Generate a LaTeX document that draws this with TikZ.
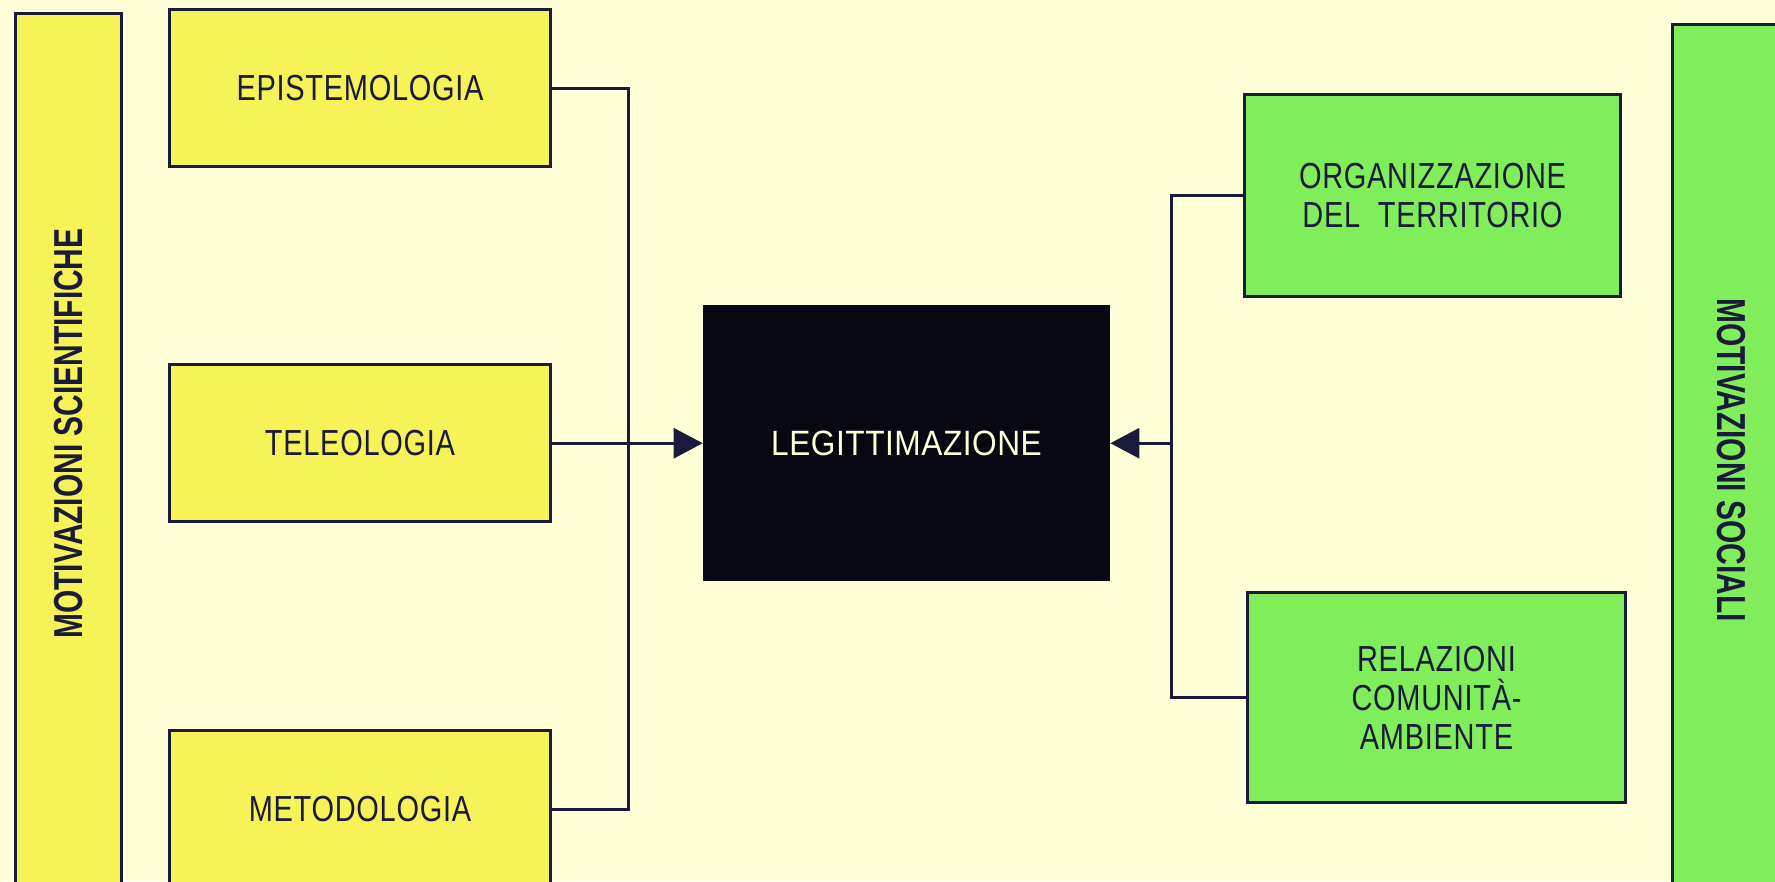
\documentclass[tikz,border=0pt]{standalone}
\usepackage{fontspec}
\setmainfont{Liberation Sans}
\newfontfamily\boxfont[FakeStretch=0.80,LetterSpace=2]{Liberation Sans}
\newfontfamily\barfont[FakeStretch=0.74]{Liberation Sans}
\newfontfamily\legfont[FakeStretch=0.9,LetterSpace=1.5]{Liberation Sans}
\usetikzlibrary{arrows.meta, positioning}
\definecolor{paper}{RGB}{255,255,216}
\definecolor{scicolor}{RGB}{245,243,88}
\definecolor{soccolor}{RGB}{128,238,90}
\definecolor{inkcolor}{RGB}{26,26,58}
\definecolor{legcolor}{RGB}{8,8,18}

\begin{document}
\begin{tikzpicture}[
    x=0.01cm, y=-0.01cm,
    field/.style={draw=inkcolor, line width=0.03cm, fill=scicolor, minimum width=3.80cm, minimum height=1.57cm, inner sep=0pt, align=center, text=inkcolor, font=\boxfont\fontsize{10.3}{11.1}\selectfont},
    social/.style={field, fill=soccolor},
    bar/.style={draw=inkcolor, line width=0.03cm, minimum height=1.05cm, inner sep=0pt, text=inkcolor, font=\barfont\bfseries\fontsize{11.5}{12}\selectfont},
    core/.style={draw=legcolor, fill=legcolor, minimum width=4.06cm, minimum height=2.74cm, text=paper, font=\legfont\fontsize{10}{12}\selectfont},
    wire/.style={draw=inkcolor, line width=0.03cm},
    arrow/.style={wire, -{Triangle[length=0.29cm, width=0.30cm]}}
]
    \useasboundingbox (0,0) rectangle (1775,881);
    \clip (0,0) rectangle (1775,881);
    \fill[paper] (0,0) rectangle (1775,881);

    % Side bars
    \node[bar, fill=scicolor, rotate=90, minimum width=8.81cm] (sci) at (68.5,454.5) {\hspace*{0.42cm}MOTIVAZIONI SCIENTIFICHE};
    \node[bar, fill=soccolor, rotate=-90, minimum width=8.70cm, minimum height=1.17cm] (soc) at (1731.5,460) {MOTIVAZIONI SOCIALI};

    % Main entities
    \node[field] (epi) at (360,88) {EPISTEMOLOGIA};
    \node[field, below=1.95cm of epi] (tel) {TELEOLOGIA};
    \node[field, below=2.06cm of tel] (met) {METODOLOGIA};
    \node[core, right=1.51cm of tel] (leg) {LEGITTIMAZIONE};
    \node[social, minimum width=3.75cm, minimum height=2.01cm] (org) at (1432.5,195.5) {ORGANIZZAZIONE\\DEL\ \ TERRITORIO};
    \node[social, minimum width=3.77cm, minimum height=2.09cm] (rel) at (1436.5,697.5) {RELAZIONI\\COMUNITÀ-\\AMBIENTE};

    % Joins
    \coordinate[right=0.77cm of tel.east] (ljoin);
    \coordinate[right=0.61cm of leg.east] (rjoin);

    % Relationships
    \draw[wire] (epi.east) -| (ljoin) |- (met.east);
    \draw[arrow] (tel.east) -- (leg.west);
    \draw[wire] (org.west) -| (rjoin) |- (rel.west);
    \draw[arrow] (rjoin) -- (leg.east);
\end{tikzpicture}
\end{document}
